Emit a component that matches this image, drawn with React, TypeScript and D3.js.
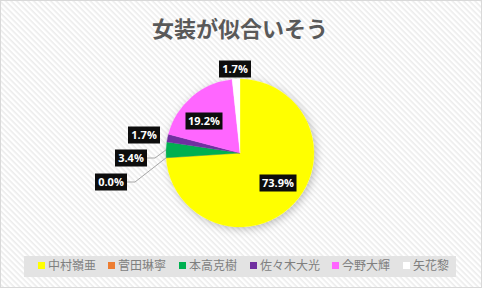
import React from "react";
import * as d3 from "d3";

const categories = ["中村嶺亜", "菅田琳寧", "本高克樹", "佐々木大光", "今野大輝", "矢花黎"];
const values = [73.9, 0.0, 3.4, 1.7, 19.2, 1.7];
const colors = ["#FFFF00", "#ED7D31", "#00B050", "#7030A0", "#FF66FF", "#FFFFFF"];
const title = "女装が似合いそう";

const W = 482, H = 288;
const cx = 240, cy = 153, R = 74;

// label box centers (as in reference, outside labels for small slices)
const labelPos: [number, number][] = [
  [278, 183], [111, 182], [131, 158], [144, 135], [204, 121], [235, 69],
];

export default function App() {
  const pie = d3.pie<number>().sort(null).value(d => d)(values);
  const arc = d3.arc<d3.PieArcDatum<number>>().innerRadius(0).outerRadius(R);
  const font = "'Noto Sans CJK JP', 'Noto Sans', sans-serif";
  const legendX = [38, 108, 179, 250, 332, 403];
  return (
    <svg width={W} height={H} style={{ position: "absolute", left: 0, top: 0 }}>
      <defs>
        <pattern id="stripes" width="4" height="4" patternUnits="userSpaceOnUse" patternTransform="rotate(45)">
          <rect width="4" height="4" fill="#ffffff" />
          <rect width="4" height="1.6" fill="#ececec" />
        </pattern>
        <filter id="shadow" x="-30%" y="-30%" width="160%" height="160%">
          <feDropShadow dx="2" dy="2" stdDeviation="4" floodColor="#000" floodOpacity="0.25" />
        </filter>
      </defs>
      <rect x={0.5} y={0.5} width={W - 1} height={H - 1} fill="url(#stripes)" stroke="#d9d9d9" />
      <text x={cx} y={37} textAnchor="middle" fontFamily={font} fontWeight="bold" fontSize={22} fill="#595959">{title}</text>
      <g transform={`translate(${cx},${cy})`}>
        <circle r={R} fill="#fff" filter="url(#shadow)" />
        {pie.map((p, i) => (
          <path key={i} d={arc(p) || ""} fill={colors[i]} stroke={colors[i]} strokeWidth={0.3} />
        ))}
      </g>
      {[1, 2].map(i => {
        const p = pie[i];
        const a = (p.startAngle + p.endAngle) / 2;
        const ex = cx + Math.sin(a) * R;
        const ey = cy - Math.cos(a) * R;
        const [lx, ly] = labelPos[i];
        const bx = lx + 16;
        return (
          <polyline key={i} points={`${bx},${ly} ${bx + 8},${ly} ${ex},${ey}`} fill="none" stroke="#a6a6a6" strokeWidth={1} />
        );
      })}
      {values.map((v, i) => {
        const [lx, ly] = labelPos[i];
        const txt = v.toFixed(1) + "%";
        const w = txt.length > 4 ? 37 : 32;
        return (
          <g key={i}>
            <rect x={lx - w / 2} y={ly - 8.5} width={w} height={17} fill="#0d0d0d" />
            <text x={lx} y={ly + 4} textAnchor="middle" fontFamily="'Open Sans', 'Noto Sans', sans-serif" fontWeight="bold" fontSize={11} fill="#ffffff">{txt}</text>
          </g>
        );
      })}
      <rect x={24} y={256} width={432} height={21} fill="#e3e3e3" />
      {categories.map((c, i) => (
        <g key={i}>
          <rect x={legendX[i]} y={262} width={7} height={7} fill={colors[i]} />
          <text x={legendX[i] + 10} y={270} fontFamily={font} fontSize={12} fill="#7f7f7f">{c}</text>
        </g>
      ))}
    </svg>
  );
}
